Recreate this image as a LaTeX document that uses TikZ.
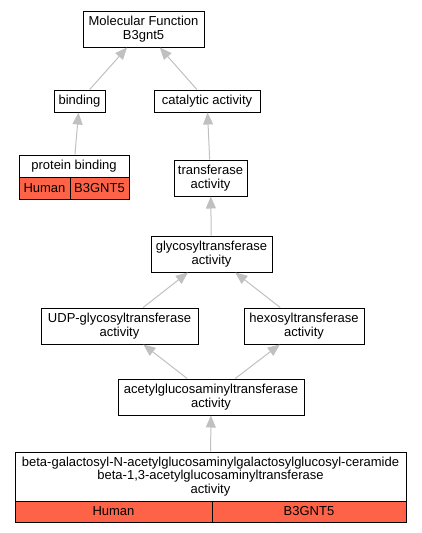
\documentclass[tikz,border=0pt]{standalone}
\usepackage{fontspec}
\setmainfont{Liberation Sans}
\usetikzlibrary{arrows.meta}
\begin{document}
\begin{tikzpicture}[x=1pt,y=-1pt,
  box/.style={draw=black,line width=1pt,fill=white,inner sep=0pt,align=center,
    font=\fontsize{13}{13.6}\selectfont},
  cell/.style={box,fill=cellred},
  edge/.style={draw=edgegray,line width=1pt,-{Triangle[length=12pt,width=10pt]}}]
\definecolor{cellred}{RGB}{255,99,71}
\definecolor{edgegray}{RGB}{192,192,192}
\useasboundingbox (0,0) rectangle (421,533);
\node[box,minimum width=121pt,minimum height=36pt] (mf) at (143.5,29) {Molecular Function\\B3gnt5};
\node[box,minimum width=51pt,minimum height=22pt] (bind) at (79.5,101) {binding};
\node[box,minimum width=106pt,minimum height=22pt] (cat) at (207,101) {catalytic activity};
\node[box,minimum width=110pt,minimum height=22pt] (pb) at (74,166) {protein binding};
\node[cell,minimum width=51pt,minimum height=22pt] (pbh) at (44.5,188) {Human};
\node[cell,minimum width=59pt,minimum height=22pt] (pbg) at (99.5,188) {B3GNT5};
\node[box,minimum width=73pt,minimum height=36pt] (tr) at (210.5,178) {transferase\\activity};
\node[box,minimum width=121pt,minimum height=36pt] (gly) at (211.5,254) {glycosyltransferase\\activity};
\node[box,minimum width=157pt,minimum height=36pt] (udp) at (119.5,326) {UDP-glycosyltransferase\\activity};
\node[box,minimum width=120pt,minimum height=36pt] (hex) at (304,326) {hexosyltransferase\\activity};
\node[box,minimum width=186pt,minimum height=36pt] (acet) at (211,397) {acetylglucosaminyltransferase\\activity};
\node[box,minimum width=391pt,minimum height=49pt] (bot) at (210.5,476.5) {beta-galactosyl-N-acetylglucosaminylgalactosylglucosyl-ceramide\\beta-1,3-acetylglucosaminyltransferase\\activity};
\node[cell,minimum width=197pt,minimum height=21pt] (both) at (113.5,511.5) {Human};
\node[cell,minimum width=194pt,minimum height=21pt] (botg) at (309,511.5) {B3GNT5};
\draw[edge] (bind) -- (mf);
\draw[edge] (cat) -- (mf);
\draw[edge] (pb) -- (bind);
\draw[edge] (tr) -- (cat);
\draw[edge] (gly) -- (tr);
\draw[edge] (udp) -- (gly);
\draw[edge] (hex) -- (gly);
\draw[edge] (acet) -- (udp);
\draw[edge] (acet) -- (hex);
\draw[edge] (bot) -- (acet);
\end{tikzpicture}
\end{document}
